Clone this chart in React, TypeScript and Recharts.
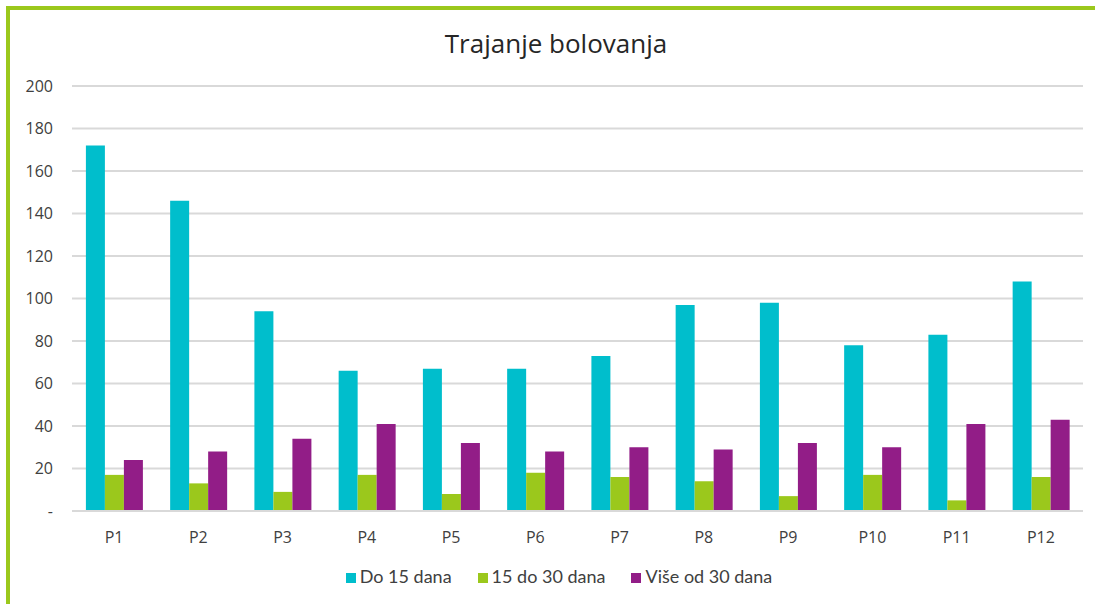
import React from 'react';
import { BarChart, Bar, XAxis, YAxis, CartesianGrid, Legend } from 'recharts';

const categories = ['P1', 'P2', 'P3', 'P4', 'P5', 'P6', 'P7', 'P8', 'P9', 'P10', 'P11', 'P12'];
const do15 = [172, 146, 94, 66, 67, 67, 73, 97, 98, 78, 83, 108];
const od15do30 = [17, 13, 9, 17, 8, 18, 16, 14, 7, 17, 5, 16];
const vise30 = [24, 28, 34, 41, 32, 28, 30, 29, 32, 30, 41, 43];
const yTicks = [0, 20, 40, 60, 80, 100, 120, 140, 160, 180, 200];
const seriesNames = ['Do 15 dana', '15 do 30 dana', 'Više od 30 dana'];

const data = categories.map((c, i) => ({
  name: c,
  a: do15[i],
  b: od15do30[i],
  c: vise30[i],
}));

const FONT = '"Open Sans", sans-serif';
const LFONT = 'Lato, "Open Sans", sans-serif';

export default function App() {
  return (
    <div style={{ position: 'absolute', left: 0, top: 0, width: 1095, height: 604, background: '#fff', fontFamily: FONT }}>
      <div style={{ position: 'absolute', left: 6, top: 6, width: 1089, height: 598, borderTop: '4px solid #9BC81C', borderLeft: '4px solid #9BC81C', boxSizing: 'border-box' }} />
      <div style={{ position: 'absolute', left: 0, width: 1112, top: 25, textAlign: 'center', fontSize: 26, lineHeight: '36px', color: '#262626', fontFamily: FONT }}>
        Trajanje bolovanja
      </div>
      <div style={{ position: 'absolute', left: 0, top: 0 }}>
        <BarChart
          width={1095}
          height={604}
          data={data}
          margin={{ top: 86, right: 12, left: 0, bottom: 41 }}
          barCategoryGap="16.5%"
          barGap={0}
        >
          <CartesianGrid vertical={false} stroke="#d9d9d9" strokeWidth={2} />
          <XAxis
            dataKey="name"
            tickLine={false}
            axisLine={{ stroke: '#d9d9d9', strokeWidth: 2 }}
            tick={{ fill: '#404040', fontSize: 16, fontFamily: FONT }}
            tickMargin={15}
            height={30}
          />
          <YAxis
            width={72}
            domain={[0, 200]}
            ticks={yTicks}
            interval={0}
            tickLine={false}
            axisLine={false}
            tickSize={0}
            tickMargin={19}
            tickFormatter={(v: number) => (v === 0 ? '-' : String(v))}
            tick={{ fill: '#404040', fontSize: 16, fontFamily: FONT }}
          />
          <Legend
            verticalAlign="bottom"
            iconType="square"
            iconSize={10}
            itemSorter={(item: any) => seriesNames.indexOf(item.value)}
            wrapperStyle={{ fontSize: 18, fontFamily: LFONT, color: '#404040', left: 0, width: 1144, top: 565, bottom: 'auto' }}
            formatter={(value: string) => <span style={{ color: '#404040', marginRight: 16 }}>{value}</span>}
          />
          <Bar dataKey="a" name={seriesNames[0]} fill="#00BECC" isAnimationActive={false} />
          <Bar dataKey="b" name={seriesNames[1]} fill="#9BC81C" isAnimationActive={false} />
          <Bar dataKey="c" name={seriesNames[2]} fill="#921D87" isAnimationActive={false} />
        </BarChart>
      </div>
    </div>
  );
}
